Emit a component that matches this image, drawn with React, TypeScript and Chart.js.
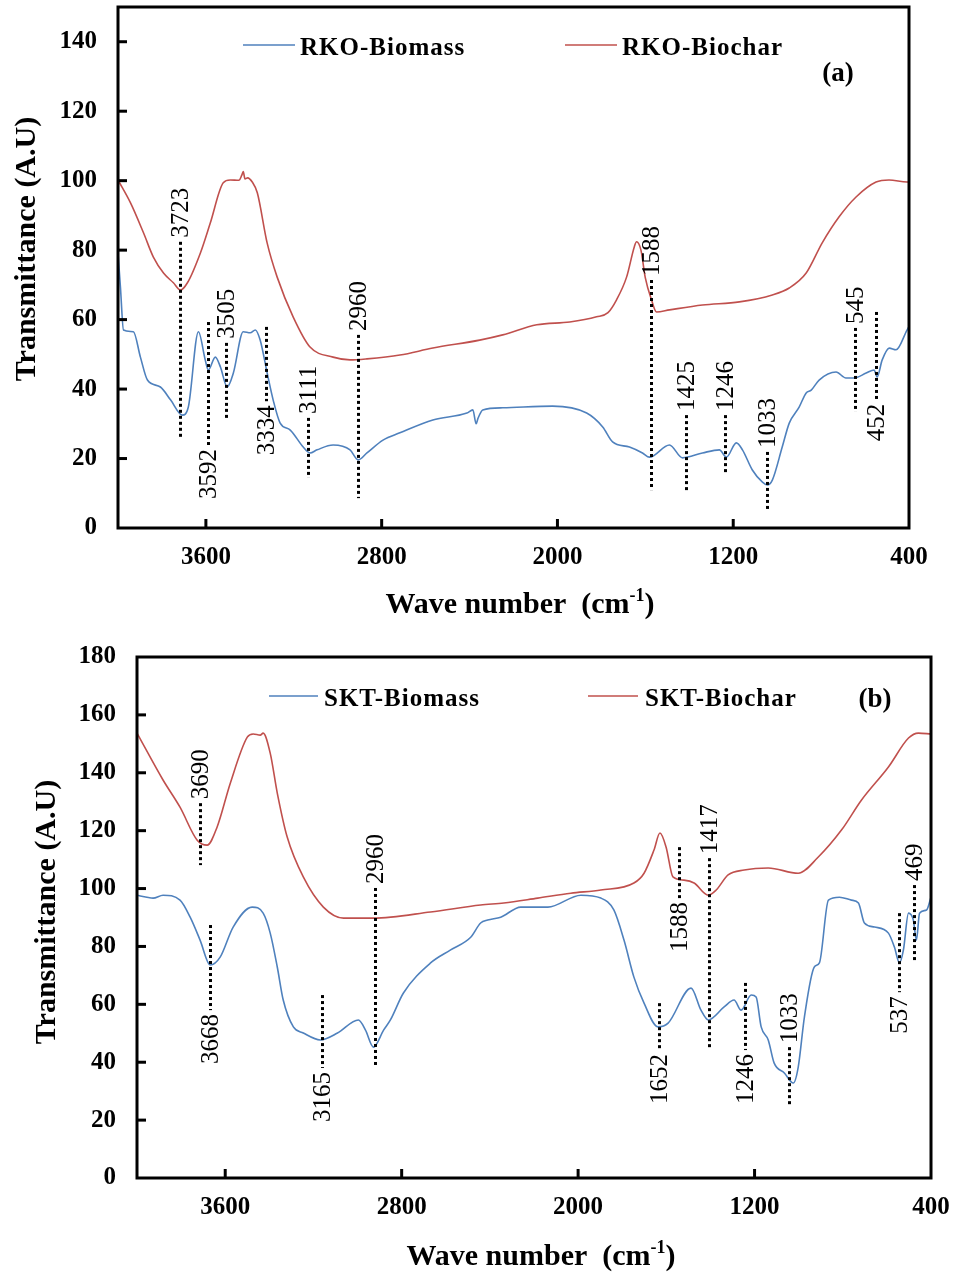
import React, { useEffect, useRef } from "react";
import { Chart, registerables } from "chart.js";

Chart.register(...registerables);

const SERIF = '"Liberation Serif", "Times New Roman", serif';
const BLUE = "#4F81BD";
const RED = "#C0504D";

// ---------- shared axis ticks ----------
const X_TICKS = [3600, 2800, 2000, 1200, 400];
const Y_TICKS_A = [0, 20, 40, 60, 80, 100, 120, 140];
const Y_TICKS_B = [0, 20, 40, 60, 80, 100, 120, 140, 160, 180];

// ---------- panel (a) RKO ----------
const RKO_BIOMASS_WN = [4000, 3989, 3975, 3930, 3898, 3866, 3807, 3761, 3707, 3680, 3634, 3603, 3589, 3557, 3534, 3503, 3475, 3430, 3398, 3375, 3353, 3321, 3294, 3262, 3216, 3157, 3126, 3094, 3021, 2944, 2907, 2867, 2794, 2717, 2567, 2412, 2385, 2370, 2362, 2340, 2249, 2022, 1867, 1794, 1749, 1672, 1613, 1581, 1490, 1431, 1340, 1263, 1231, 1186, 1158, 1113, 1067, 1045, 1022, 977, 945, 900, 868, 845, 809, 732, 687, 650, 595, 559, 545, 522, 490, 459, 409, 400];
const RKO_BIOMASS_T = [79.2, 69.4, 57, 56.5, 49.2, 42.6, 40.6, 36.9, 32.5, 34.8, 56.5, 48.4, 45.5, 49.2, 46.4, 40.6, 44.6, 56.5, 56.2, 57, 54.1, 44.6, 36.9, 30.2, 28.2, 23.3, 21.6, 22.5, 23.9, 22.5, 19.6, 21.6, 25.3, 27.4, 31.1, 33.1, 34, 30, 31.5, 34, 34.6, 35.1, 33.1, 29.1, 24.8, 23.3, 21.6, 20.4, 23.9, 20.2, 21.6, 22.5, 20.4, 24.5, 22.5, 16.7, 13.2, 12.4, 13.8, 23.3, 30.2, 34.8, 38.9, 39.7, 42.6, 44.9, 43.2, 43.2, 44.6, 45.5, 43.5, 48.4, 51.8, 51.3, 57, 58];

const RKO_BIOCHAR_WN = [4000, 3943, 3884, 3839, 3793, 3748, 3716, 3684, 3625, 3580, 3521, 3489, 3450, 3437, 3430, 3422, 3410, 3389, 3366, 3321, 3276, 3203, 3126, 3021, 2944, 2867, 2717, 2567, 2354, 2249, 2094, 1944, 1822, 1770, 1731, 1685, 1650, 1640, 1620, 1600, 1572, 1549, 1490, 1340, 1172, 1022, 945, 868, 795, 718, 641, 550, 491, 409, 400];
const RKO_BIOCHAR_T = [100.2, 93.6, 85, 78, 73.4, 70.6, 68.5, 70.6, 79.2, 87.8, 99.4, 100.2, 100.1, 101.5, 102.6, 100.5, 100.8, 99.6, 96.5, 82, 72.3, 60.8, 52.1, 49.2, 48.4, 48.7, 49.8, 51.8, 54.1, 55.6, 58.5, 59.3, 60.8, 62, 65.7, 72.3, 81, 82.4, 80, 72, 65.7, 62.2, 62.8, 64.2, 65.1, 67.1, 69.1, 73.4, 82.1, 89.6, 95.3, 99.6, 100.2, 99.6, 99.6];

// [label, wavenumber, dotted line top, dotted line bottom, label side]
const RKO_PEAKS: [string, number, number, number, string][] = [
  ["3723", 3716, 82.4, 26.2, "above"],
  ["3592", 3589, 59.3, 23.9, "below"],
  ["3505", 3507, 53.3, 31.7, "above"],
  ["3334", 3325, 57.9, 36.5, "below"],
  ["3111", 3135, 31.7, 14.4, "above"],
  ["2960", 2907, 55.6, 8.6, "above"],
  ["1588", 1572, 71.4, 10.9, "above"],
  ["1425", 1417, 32.5, 10.4, "above"],
  ["1246", 1236, 32.5, 15.8, "above"],
  ["1033", 1045, 21.9, 5.2, "above"],
  ["545", 645, 57.6, 33.4, "above"],
  ["452", 550, 62.2, 36.9, "below"],
];

// ---------- panel (b) SKT ----------
const SKT_BIOMASS_WN = [4000, 3955, 3927, 3882, 3805, 3759, 3714, 3668, 3623, 3564, 3478, 3428, 3396, 3364, 3337, 3291, 3246, 3169, 3091, 2996, 2964, 2928, 2882, 2851, 2792, 2669, 2578, 2487, 2442, 2410, 2351, 2260, 2137, 1987, 1897, 1838, 1792, 1747, 1701, 1638, 1592, 1488, 1443, 1410, 1338, 1293, 1261, 1215, 1193, 1170, 1138, 1111, 1065, 1024, 1002, 974, 929, 906, 865, 815, 761, 729, 702, 656, 593, 566, 543, 525, 502, 480, 466, 452, 420, 400];
const SKT_BIOMASS_T = [97.7, 97, 96.7, 97.7, 96, 90.1, 82.2, 73.6, 76.3, 86.7, 93.6, 91.5, 84.6, 72.9, 61.5, 52.2, 50.1, 47.7, 50.1, 54.6, 51.1, 45.2, 51.1, 54.6, 63.9, 74.3, 78.8, 83.2, 88.1, 89.1, 90.1, 93.6, 93.6, 97.7, 96.7, 92.6, 82.2, 69.4, 60.4, 52.2, 53.5, 65.6, 58, 54.6, 59.1, 61.5, 58, 63.2, 62.5, 52.2, 47.7, 39.7, 36.3, 32.8, 38.3, 55.6, 72.9, 74.3, 96, 97, 96, 95, 88.1, 86.7, 84.6, 79.8, 74.3, 78.8, 91.5, 89.1, 82.2, 91.5, 92.6, 97];

const SKT_BIOCHAR_WN = [4000, 3882, 3805, 3727, 3682, 3637, 3577, 3500, 3473, 3441, 3428, 3396, 3364, 3319, 3246, 3155, 3064, 2928, 2669, 2442, 2337, 2183, 2033, 1897, 1747, 1701, 1656, 1629, 1601, 1570, 1520, 1474, 1410, 1374, 1320, 1247, 1138, 1002, 911, 806, 715, 593, 502, 457, 400];
const SKT_BIOCHAR_T = [153.7, 137.5, 128.1, 116.7, 115, 121.2, 136.4, 152.3, 153.4, 153, 153.7, 146.8, 133, 117.8, 104, 93.6, 89.8, 89.8, 91.9, 94.3, 95, 96.7, 98.4, 99.5, 101.9, 105.3, 113.3, 119.2, 114.3, 104, 102.9, 101.9, 97.7, 99.5, 104.7, 106.4, 107.1, 105.3, 110.9, 120.2, 130.6, 142, 152, 153.7, 153.4];

const SKT_PEAKS: [string, number, number, number, string][] = [
  ["3690", 3714, 129.5, 108.1, "above"],
  ["3668", 3668, 87.4, 58, "below"],
  ["3165", 3160, 63.2, 38, "below"],
  ["2960", 2923, 100.2, 38.3, "above"],
  ["1652", 1633, 60.4, 44.2, "below"],
  ["1588", 1542, 114.3, 96.7, "below"],
  ["1417", 1406, 110.5, 45.2, "above"],
  ["1246", 1242, 67.4, 44.2, "below"],
  ["1033", 1042, 45.2, 25.2, "above"],
  ["537", 543, 91.5, 64.2, "below"],
  ["469", 475, 101.2, 74.3, "above"],
];

const W = 954;

type Panel = {
  height: number;
  area: { left: number; right: number; top: number; bottom: number };
  yMax: number;
  yTicks: number[];
  series: { label: string; wn: number[]; val: number[]; color: string }[];
  peaks: [string, number, number, number, string][];
  legend: { x1: number; x2: number; y: number; tx: number; ty: number }[];
  tag: { text: string; x: number; y: number };
  yTitle: { x: number; y: number };
  xTitle: { x: number; y: number };
};

const PANEL_A: Panel = {
  height: 630,
  area: { left: 118, right: 909, top: 7, bottom: 528 },
  yMax: 150,
  yTicks: Y_TICKS_A,
  series: [
    { label: "RKO-Biomass", wn: RKO_BIOMASS_WN, val: RKO_BIOMASS_T, color: BLUE },
    { label: "RKO-Biochar", wn: RKO_BIOCHAR_WN, val: RKO_BIOCHAR_T, color: RED },
  ],
  peaks: RKO_PEAKS,
  legend: [
    { x1: 243, x2: 295, y: 45, tx: 300, ty: 55 },
    { x1: 565, x2: 617, y: 45, tx: 622, ty: 55 },
  ],
  tag: { text: "(a)", x: 838, y: 81 },
  yTitle: { x: 27, y: 249 },
  xTitle: { x: 520, y: 613 },
};

const PANEL_B: Panel = {
  height: 642,
  area: { left: 137, right: 931, top: 27, bottom: 548 },
  yMax: 180,
  yTicks: Y_TICKS_B,
  series: [
    { label: "SKT-Biomass", wn: SKT_BIOMASS_WN, val: SKT_BIOMASS_T, color: BLUE },
    { label: "SKT-Biochar", wn: SKT_BIOCHAR_WN, val: SKT_BIOCHAR_T, color: RED },
  ],
  peaks: SKT_PEAKS,
  legend: [
    { x1: 269, x2: 318, y: 66, tx: 324, ty: 76 },
    { x1: 588, x2: 638, y: 66, tx: 645, ty: 76 },
  ],
  tag: { text: "(b)", x: 875, y: 77 },
  yTitle: { x: 47, y: 282 },
  xTitle: { x: 541, y: 635 },
};

const decor = {
  id: "ftirDecor",
  beforeDraw(chart: any) {
    const ctx = chart.ctx;
    ctx.save();
    ctx.fillStyle = "#fff";
    ctx.fillRect(0, 0, chart.width, chart.height);
    ctx.restore();
  },
  afterDatasetsDraw(chart: any, _a: any, opts: any) {
    const p: Panel = opts.panel;
    const ctx = chart.ctx;
    const ca = chart.chartArea;
    const xs = chart.scales.x;
    const ys = chart.scales.y;
    ctx.save();
    // dotted peak markers
    for (const [label, wn, top, bottom, side] of p.peaks) {
      const px = Math.round(xs.getPixelForValue(wn)) + 0.5;
      const y1 = ys.getPixelForValue(top);
      const y2 = ys.getPixelForValue(bottom);
      ctx.strokeStyle = "#000";
      ctx.lineWidth = 3;
      ctx.setLineDash([3, 3]);
      ctx.beginPath();
      ctx.moveTo(px, y1);
      ctx.lineTo(px, y2);
      ctx.stroke();
      ctx.setLineDash([]);
      ctx.save();
      ctx.translate(px, side === "above" ? y1 - 4 : y2 + 4);
      ctx.rotate(-Math.PI / 2);
      ctx.fillStyle = "#000";
      ctx.font = `25px ${SERIF}`;
      ctx.textBaseline = "middle";
      ctx.textAlign = side === "above" ? "left" : "right";
      ctx.fillText(label, 0, 1);
      ctx.restore();
    }
    // plot border
    ctx.strokeStyle = "#000";
    ctx.lineWidth = 3;
    ctx.strokeRect(ca.left, ca.top, ca.right - ca.left, ca.bottom - ca.top);
    // tick marks (inside)
    ctx.lineWidth = 3;
    for (const v of p.yTicks) {
      if (v === 0) continue;
      const py = ys.getPixelForValue(v);
      if (py <= ca.top + 2) continue;
      ctx.beginPath();
      ctx.moveTo(ca.left, py);
      ctx.lineTo(ca.left + 9, py);
      ctx.stroke();
    }
    for (const v of X_TICKS) {
      const px = xs.getPixelForValue(v);
      if (px >= ca.right - 2) continue;
      ctx.beginPath();
      ctx.moveTo(px, ca.bottom);
      ctx.lineTo(px, ca.bottom - 9);
      ctx.stroke();
    }
    // legend
    p.series.forEach((s, i) => {
      const L = p.legend[i];
      ctx.strokeStyle = s.color;
      ctx.lineWidth = 1.5;
      ctx.beginPath();
      ctx.moveTo(L.x1, L.y);
      ctx.lineTo(L.x2, L.y);
      ctx.stroke();
      ctx.fillStyle = "#000";
      ctx.font = `bold 25px ${SERIF}`;
      (ctx as any).letterSpacing = "1px";
      ctx.textAlign = "left";
      ctx.textBaseline = "alphabetic";
      ctx.fillText(s.label, L.tx, L.ty);
      (ctx as any).letterSpacing = "0px";
    });
    // panel tag
    ctx.font = `bold 27px ${SERIF}`;
    ctx.textAlign = "center";
    ctx.textBaseline = "alphabetic";
    ctx.fillText(p.tag.text, p.tag.x, p.tag.y);
    // y title
    ctx.save();
    ctx.translate(p.yTitle.x, p.yTitle.y);
    ctx.rotate(-Math.PI / 2);
    ctx.font = `bold 30px ${SERIF}`;
    ctx.textAlign = "center";
    ctx.textBaseline = "middle";
    ctx.fillText("Transmittance (A.U)", 0, 0);
    ctx.restore();
    // x title with superscript
    const main = "Wave number  (cm";
    const sup = "-1";
    const close = ")";
    ctx.font = `bold 30px ${SERIF}`;
    const w1 = ctx.measureText(main).width;
    const w3 = ctx.measureText(close).width;
    ctx.font = `bold 18px ${SERIF}`;
    const w2 = ctx.measureText(sup).width;
    const total = w1 + w2 + w3;
    let x0 = p.xTitle.x - total / 2;
    ctx.textAlign = "left";
    ctx.textBaseline = "alphabetic";
    ctx.font = `bold 30px ${SERIF}`;
    ctx.fillText(main, x0, p.xTitle.y);
    x0 += w1;
    ctx.font = `bold 18px ${SERIF}`;
    ctx.fillText(sup, x0, p.xTitle.y - 12);
    x0 += w2;
    ctx.font = `bold 30px ${SERIF}`;
    ctx.fillText(close, x0, p.xTitle.y);
    ctx.restore();
  },
};

function zeroPadding(s: any) {
  s.paddingTop = 0;
  s.paddingBottom = 0;
  s.paddingLeft = 0;
  s.paddingRight = 0;
}

function FtirPanel({ panel }: { panel: Panel }) {
  const ref = useRef<HTMLCanvasElement | null>(null);
  useEffect(() => {
    if (!ref.current) return;
    const H = panel.height;
    const a = panel.area;
    const chart = new Chart(ref.current, {
      type: "line",
      data: {
        datasets: panel.series.map((s) => ({
          label: s.label,
          data: s.wn.map((w, i) => ({ x: w, y: s.val[i] })),
          borderColor: s.color,
          borderWidth: 1.6,
          pointRadius: 0,
          fill: false,
          cubicInterpolationMode: "monotone" as const,
        })),
      },
      options: {
        animation: false,
        responsive: false,
        maintainAspectRatio: false,
        devicePixelRatio: 1,
        layout: { padding: { top: a.top, right: W - a.right, left: 0, bottom: 0 } },
        plugins: {
          legend: { display: false },
          tooltip: { enabled: false },
          ftirDecor: { panel },
        } as any,
        scales: {
          x: {
            type: "linear",
            reverse: true,
            min: 400,
            max: 4000,
            grid: { display: false, drawTicks: false },
            border: { display: false },
            afterBuildTicks: (s: any) => {
              s.ticks = X_TICKS.map((v) => ({ value: v }));
            },
            afterFit: (s: any) => {
              s.height = H - a.bottom;
              zeroPadding(s);
            },
            ticks: {
              autoSkip: false,
              maxRotation: 0,
              padding: 15,
              color: "#000",
              font: { family: SERIF, size: 25, weight: "bold" },
              callback: (v: any) => String(v),
            },
          },
          y: {
            type: "linear",
            min: 0,
            max: panel.yMax,
            grid: { display: false, drawTicks: false },
            border: { display: false },
            afterBuildTicks: (s: any) => {
              s.ticks = panel.yTicks.map((v) => ({ value: v }));
            },
            afterFit: (s: any) => {
              s.width = a.left;
              zeroPadding(s);
            },
            ticks: {
              autoSkip: false,
              padding: 21,
              color: "#000",
              font: { family: SERIF, size: 25, weight: "bold" },
              callback: (v: any) => String(v),
            },
          },
        },
      } as any,
      plugins: [decor],
    });
    return () => chart.destroy();
  }, [panel]);
  return (
    <canvas
      ref={ref}
      width={W}
      height={panel.height}
      style={{ display: "block", width: W, height: panel.height }}
    />
  );
}

export default function App() {
  return (
    <div
      style={{
        position: "absolute",
        left: 0,
        top: 0,
        width: W,
        height: 1272,
        background: "#fff",
        overflow: "hidden",
      }}
    >
      <FtirPanel panel={PANEL_A} />
      <FtirPanel panel={PANEL_B} />
    </div>
  );
}
